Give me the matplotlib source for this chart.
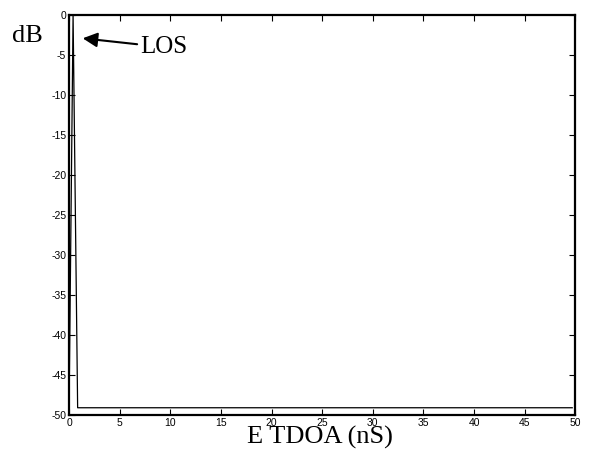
import matplotlib
matplotlib.use("Agg")
import matplotlib.pyplot as plt
import numpy as np

plt.rcParams["axes.unicode_minus"] = False

# data
tdoa = [0.0, 0.4, 0.85, 49.7]
level_db = [-49.5, 0.0, -49.1, -49.1]
x_ticks = list(range(0, 51, 5))
y_ticks = list(range(-50, 1, 5))

fig = plt.figure(figsize=(5.9, 4.58), dpi=100)
ax = fig.add_axes([0.117, 0.094, 0.858, 0.873])

ax.plot(tdoa, level_db, color="black", linewidth=0.9)

ax.set_xlim(0, 50)
ax.set_ylim(-50, 0)
ax.set_xticks(x_ticks)
ax.set_yticks(y_ticks)
ax.tick_params(direction="in", length=4, width=0.8, top=True, right=True,
               labelsize=7.5, pad=2)
for lab in ax.get_xticklabels() + ax.get_yticklabels():
    lab.set_family("Liberation Sans")
for sp in ax.spines.values():
    sp.set_linewidth(1.6)

ax.annotate("LOS", xy=(1.35, -2.9), xytext=(7.0, -4.0),
            fontsize=18, family="Liberation Serif", va="center", ha="left",
            arrowprops=dict(arrowstyle="-|>", color="black", lw=1.5,
                            mutation_scale=22, shrinkA=0, shrinkB=0))

fig.text(0.046, 0.922, "dB", fontsize=19, family="Liberation Serif",
         ha="center", va="center")
fig.text(0.543, 0.045, "E TDOA (nS)", fontsize=19, family="Liberation Serif",
         ha="center", va="center")

fig.savefig("out.png", dpi=100)
